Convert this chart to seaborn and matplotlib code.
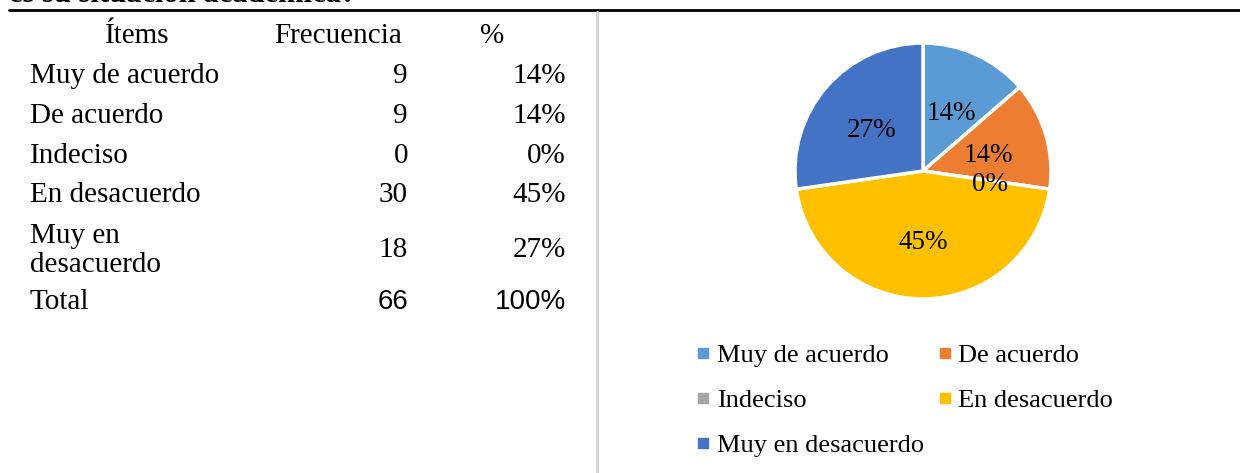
import matplotlib
matplotlib.use('Agg')
import matplotlib.pyplot as plt
import seaborn as sns
from matplotlib.lines import Line2D

# data
items = ['Muy de acuerdo', 'De acuerdo', 'Indeciso', 'En desacuerdo', 'Muy en\ndesacuerdo']
freq = [9, 9, 0, 30, 18]
pct_labels = ['14%', '14%', '0%', '45%', '27%']
total_freq = 66
total_pct = '100%'
colors = ['#5B9BD5', '#ED7D31', '#A5A5A5', '#FFC000', '#4472C4']

W, H = 1240, 473
sns.set_theme(style='white')
plt.rcParams['font.family'] = ['Liberation Serif', 'DejaVu Serif']
plt.rcParams['text.color'] = 'black'

fig = plt.figure(figsize=(W / 100, H / 100), dpi=100)
fig.patch.set_facecolor('white')


def px(x, y):
    return x / W, 1 - y / H


# cut off title line and rules
fig.text(*px(9, 1.5), 'es su situación académica?', fontsize=22, fontweight='bold',
         ha='left', va='baseline')
fig.add_artist(Line2D([9 / W, 1], [1 - 10.5 / H] * 2, color='black', lw=2))
fig.add_artist(Line2D([597 / W] * 2, [1 - 12 / H, 0], color='#D4D4D4', lw=2))

# table
fs = 21
dy = 3
fig.text(*px(137, 33 + dy), 'Ítems', fontsize=fs, ha='center', va='center')
fig.text(*px(338, 33 + dy), 'Frecuencia', fontsize=fs, ha='center', va='center')
fig.text(*px(492, 33 + dy), '%', fontsize=fs, ha='center', va='center')
row_y = [73, 113, 153, 192, 247]
for y, name, f, p in zip(row_y, items, freq, pct_labels):
    fig.text(*px(30, y + dy), name, fontsize=fs, ha='left', va='center', linespacing=1.15)
    fig.text(*px(408, y + dy), str(f), fontsize=fs, ha='right', va='center')
    fig.text(*px(566, y + dy), p, fontsize=fs, ha='right', va='center')
fig.text(*px(30, 299 + dy), 'Total', fontsize=fs, ha='left', va='center')
sans = ['Liberation Sans Narrow', 'Liberation Sans', 'DejaVu Sans']
fig.text(*px(408, 299 + dy), str(total_freq), fontsize=20, ha='right', va='center', family=sans)
fig.text(*px(566, 299 + dy), total_pct, fontsize=20, ha='right', va='center', family=sans)

# pie: centre (923,171), radius 128 px
r = 128
half = 150
cx, cy = 923, 171
ax = fig.add_axes([(cx - half) / W, 1 - (cy + half) / H, 2 * half / W, 2 * half / H])
wedges, texts, autotexts = ax.pie(freq, colors=colors, startangle=90, counterclock=False,
                                  autopct=lambda v: f'{v:.0f}%', pctdistance=0.53,
                                  wedgeprops=dict(edgecolor='white', linewidth=2.5),
                                  textprops=dict(fontsize=19.5, color='black'))
lim = half / r
ax.set_xlim(-lim, lim)
ax.set_ylim(-lim, lim)
ax.set_aspect('equal')
ax.axis('off')
for t in autotexts:
    x, y = t.get_position()
    t.set_position((x, y - 0.03))

# legend, row-wise order with two columns
order = [0, 2, 4, 1, 3]
names = [items[i].replace('\n', ' ') for i in order]
handles = [Line2D([], [], marker='s', ls='', markersize=7, color=colors[i]) for i in order]
fig.legend(handles, names, ncol=2, loc='upper left', bbox_to_anchor=px(685, 333),
           frameon=False, fontsize=19, handlelength=0.6, handletextpad=0.2,
           columnspacing=0.5, labelspacing=0.82, borderaxespad=0)

fig.savefig('out.png', dpi=100)
